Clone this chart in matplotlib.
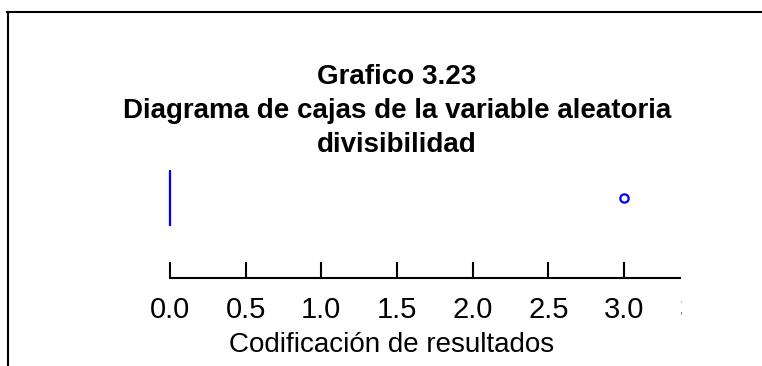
import matplotlib
matplotlib.use("Agg")
import matplotlib.pyplot as plt
from matplotlib.lines import Line2D
from matplotlib.transforms import Bbox, TransformedBbox, ScaledTranslation

plt.rcParams['font.family'] = ['Liberation Sans', 'DejaVu Sans']

# resumen de la variable divisibilidad
q1 = 0.0
mediana = 0.0
q3 = 0.0
bigote_inf = 0.0
bigote_sup = 0.0
atipicos = [3.0]

ticks = [0.0, 0.5, 1.0, 1.5, 2.0, 2.5, 3.0]
tick_labels = ["0.0", "0.5", "1.0", "1.5", "2.0", "2.5", "3.0"]
tick_cortado = 3.5  # etiqueta que aparece cortada en el borde

titulo = "Grafico 3.23\nDiagrama de cajas de la variable aleatoria\ndivisibilidad"
etiqueta_x = "Codificación de resultados"

W, H = 762, 366
fig = plt.figure(figsize=(W / 100, H / 100), dpi=100)
ax = fig.add_axes([170 / W, 1 - 278 / H, 510 / W, 160 / H])

stats = [dict(med=mediana, q1=q1, q3=q3, whislo=bigote_inf, whishi=bigote_sup,
              fliers=atipicos)]
azul = '#0000ff'
art = ax.bxp(stats, positions=[0.5], widths=0.34, vert=False,
             boxprops=dict(color=azul, linewidth=1.5),
             medianprops=dict(color=azul, linewidth=1.5),
             whiskerprops=dict(color=azul, linewidth=1.5),
             capprops=dict(color=azul, linewidth=1.5),
             flierprops=dict(marker='o', markerfacecolor='white', markeredgecolor=azul,
                             markersize=6, markeredgewidth=1.6),
             showcaps=False, manage_ticks=False)
for group in art.values():
    for a in group:
        a.set_clip_on(False)

ax.set_xticks(ticks)
ax.set_xticklabels(tick_labels)
ax.set_xlim(0, 3.37)
ax.set_ylim(0, 1)
ax.set_yticks([])
for s in ['top', 'left', 'right']:
    ax.spines[s].set_visible(False)
ax.spines['bottom'].set_linewidth(1.5)
ax.tick_params(axis='x', direction='in', length=11.5, width=1.5, labelsize=21, pad=13)
ax.set_xlabel(etiqueta_x, fontsize=20, labelpad=6)
ax.xaxis.label.set_x((392 - 170) / 510)

# la etiqueta 3.5 queda cortada en el borde derecho del eje
off = ScaledTranslation(0, -13 / 72, fig.dpi_scale_trans)
t = ax.text(tick_cortado, 0, "3.5", transform=ax.get_xaxis_transform() + off,
            ha='center', va='top', fontsize=21)
t.set_clip_box(TransformedBbox(Bbox([[0, 0], [682 / W, 1]]), fig.transFigure))
t.set_clip_on(True)

fig.text(397 / W, 1 - 64 / H, titulo, ha='center', va='top', fontsize=20,
         fontweight='bold', linespacing=1.4)

# marco recortado del grafico original
fig.add_artist(Line2D([8 / W, 8 / W], [0, 1 - 12 / H], transform=fig.transFigure,
                      color='black', linewidth=1.5))
fig.add_artist(Line2D([7 / W, 1], [1 - 12 / H, 1 - 12 / H], transform=fig.transFigure,
                      color='black', linewidth=1.5))

fig.savefig("out.png", dpi=100)
